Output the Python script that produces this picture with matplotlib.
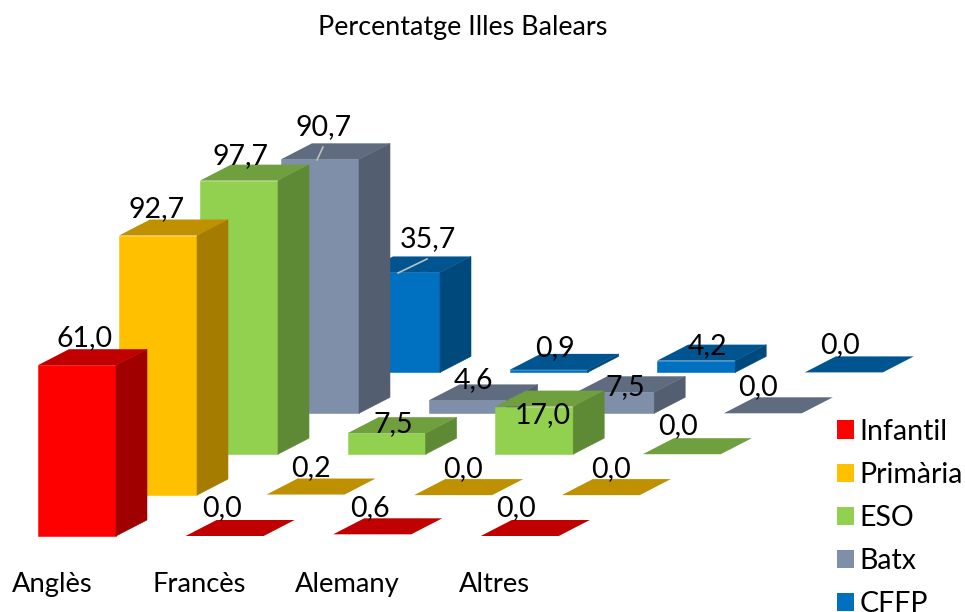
import matplotlib
matplotlib.use('Agg')
import matplotlib.pyplot as plt
from matplotlib.patches import Polygon, Patch

plt.rcParams['font.family'] = ['Lato', 'DejaVu Sans']

categories = ['Anglès', 'Francès', 'Alemany', 'Altres']
series_names = ['Infantil', 'Primària', 'ESO', 'Batx', 'CFFP']

infantil = [61.0, 0.0, 0.6, 0.0]
primaria = [92.7, 0.2, 0.0, 0.0]
eso = [97.7, 7.5, 17.0, 0.0]
batx = [90.7, 4.6, 7.5, 0.0]
cffp = [35.7, 0.9, 4.2, 0.0]
all_series = [infantil, primaria, eso, batx, cffp]

# front, top, side
colors = [('#FF0000', '#C00000', '#A00000'),
          ('#FFC000', '#BF9000', '#A67C00'),
          ('#92D050', '#6F9F3E', '#5F8A35'),
          ('#7F8FA9', '#5F6C80', '#535E70'),
          ('#0070C0', '#00548F', '#00497D')]

# projection, everything in pixels of the 965x612 picture
x_start = 38.0
y_start = 536.0
cat_step = 147.6
ser_dx = 81.0
ser_dy = -40.9
bar_w = 78.0
depth_x = 31.0
depth_y = -16.0
px_per_unit = 2.8

# label shift from centre of the top face, by series then category
label_shift = [[(-7.5, -19), (-18.5, -20), (-17.5, -18.5), (-19.5, -20)],
               [(-16.5, -18.5), (-10.5, -18.5), (-5.5, -18.5), (-5.5, -18.5)],
               [(-14.5, -16.5), (-8.5, -1.5), (-6.5, 16.5), (-19.5, -20.5)],
               [(-11.5, -24.5), (-9.5, -12.5), (-5.5, 2.5), (-20.5, -18.5)],
               [(11.5, -25.5), (-9.5, -14), (-4.5, -6.5), (-19.5, -19.5)]]

fig = plt.figure(figsize=(9.65, 6.12), dpi=100)
ax = fig.add_axes([0, 42 / 612, 1, 570 / 612])
ax.set_xlim(0, 965)
ax.set_ylim(570, 0)
for sp in ax.spines.values():
    sp.set_visible(False)
ax.set_yticks([])
ax.set_xticks([x_start + 14 + cat_step * c for c in range(len(categories))], categories)
ax.tick_params(axis='x', length=0, labelsize=19.7, pad=1.5)


def draw_bar(c, s, value):
    x = x_start + cat_step * c + ser_dx * s
    y = y_start + ser_dy * s
    h = value * px_per_unit
    front, top, side = colors[s]
    zo = 10 - s
    if h > 2:
        ax.add_patch(Polygon([(x, y), (x + bar_w, y), (x + bar_w, y - h), (x, y - h)],
                             fc=front, ec=front, lw=0.4, zorder=zo))
        ax.add_patch(Polygon([(x + bar_w, y), (x + bar_w + depth_x, y + depth_y),
                              (x + bar_w + depth_x, y + depth_y - h), (x + bar_w, y - h)],
                             fc=side, ec=side, lw=0.4, zorder=zo))
    ax.add_patch(Polygon([(x, y - h), (x + bar_w, y - h),
                          (x + bar_w + depth_x, y + depth_y - h), (x + depth_x, y + depth_y - h)],
                         fc=top, ec='none', zorder=zo))
    cx = x + bar_w / 2 + depth_x / 2
    cy = y - h + depth_y / 2
    dx, dy = label_shift[s][c]
    ax.text(cx + dx, cy + dy, ('%.1f' % value).replace('.', ','),
            ha='center', va='center', fontsize=20.5, color='black', zorder=20)


for s in range(len(all_series) - 1, -1, -1):
    for c in range(len(categories)):
        draw_bar(c, s, all_series[s][c])

# leader lines of the two labels pushed away from their bars
ax.plot([323, 317], [147, 160], color='#BFBFBF', lw=1.2, zorder=15)
ax.plot([427, 398], [259, 273], color='#BFBFBF', lw=1.2, zorder=15)

fig.suptitle('Percentatge Illes Balears', x=463 / 965, y=1 - 27 / 612, va='center',
             fontsize=19.4, color='black')

handles = [Patch(fc=colors[i][0], ec='none', label=series_names[i]) for i in range(len(series_names))]
ax.legend(handles=handles, loc='upper left', bbox_to_anchor=(837 / 965, 1 - 418.5 / 570), frameon=False,
          fontsize=20.5, labelspacing=0.605, handlelength=0.6, handleheight=0.6, handletextpad=0.2,
          borderpad=0, borderaxespad=0)

plt.savefig('out.png', dpi=100)
